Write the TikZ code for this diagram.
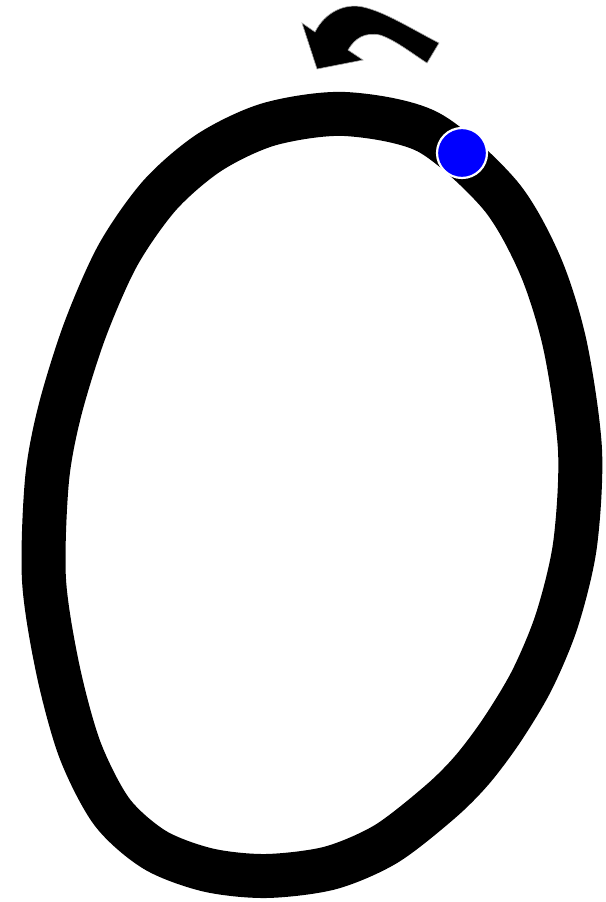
\documentclass[tikz,border=0pt]{standalone}
\begin{document}
\begin{tikzpicture}[x=1pt,y=-1pt,
  strokezero/.style={line width=44pt, line join=round},
  dotstyle/.style={circle, fill=blue, draw=white, line width=2.2pt, minimum size=50pt, inner sep=0pt},
  arrowshape/.style={fill=black, draw=black!35, line width=0.6pt, line join=miter}]
\useasboundingbox (0,0) rectangle (605,902);
\fill[white] (0,0) rectangle (605,902);
\draw[strokezero] plot[smooth cycle, tension=0.5] coordinates {
 (345,114) (428,132) (500,195) (540,265) (565,345) (580,450) (575,545)
 (557,620) (532,680) (502,730) (472,770) (440,802) (386,844) (330,868) (266,876)
 (208,870) (155,850) (112,812) (80,750) (58,670) (44,580) (47,480)
 (60,410) (85,330) (118,255) (160,195) (210,152) (270,124)};
\node[dotstyle] (dot) at (462,153) {};
\draw[arrowshape] (439,43) .. controls (410,28) and (385,12) .. (363,7)
  .. controls (345,3) and (325,12) .. (315,32)
  -- (302,23) -- (317,69) -- (363,60) -- (348,50)
  .. controls (355,38) and (365,32) .. (380,35)
  .. controls (395,40) and (410,52) .. (427,63) -- cycle;
\end{tikzpicture}
\end{document}
